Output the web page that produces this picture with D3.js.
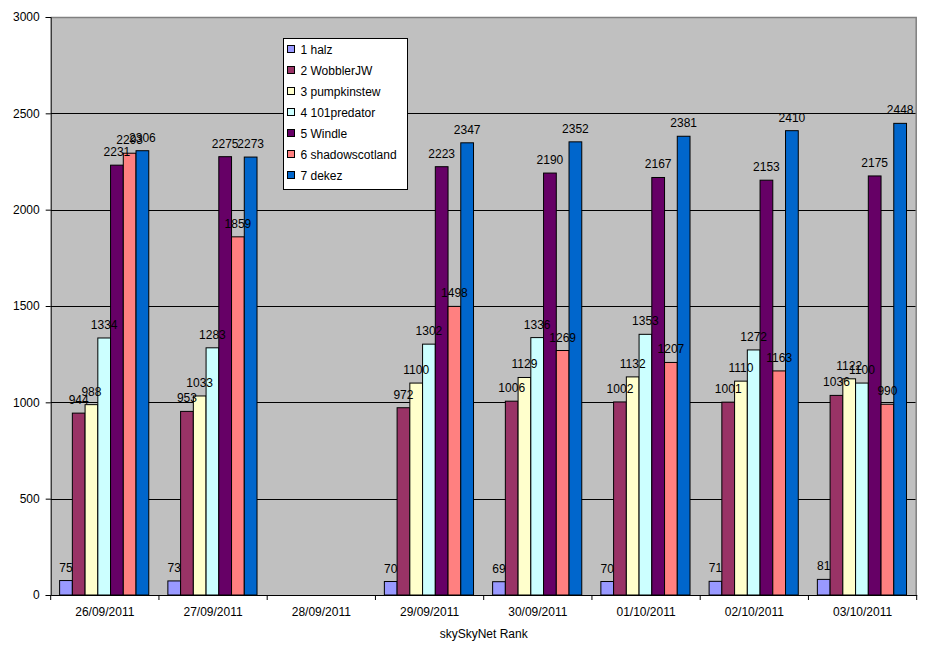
<!DOCTYPE html>
<html><head><meta charset="utf-8">
<script src="https://cdn.jsdelivr.net/npm/d3@7"></script>
<style>body{margin:0;background:#fff;}svg{display:block;}text{font-family:Arial,"Liberation Sans",sans-serif;}</style>
</head><body><svg id="c" width="936" height="652"></svg>
<script>
const dates = ["26/09/2011","27/09/2011","28/09/2011","29/09/2011","30/09/2011","01/10/2011","02/10/2011","03/10/2011"];
const seriesNames = ["1 halz","2 WobblerJW","3 pumpkinstew","4 101predator","5 Windle","6 shadowscotland","7 dekez"];
const halz = [75,73,null,70,69,70,71,81];
const wobblerJW = [944,953,null,972,1006,1002,1001,1036];
const pumpkinstew = [988,1033,null,1100,1129,1132,1110,1122];
const predator101 = [1334,1283,null,1302,1336,1353,1272,1100];
const windle = [2231,2275,null,2223,2190,2167,2153,2175];
const shadowscotland = [2293,1859,null,1498,1269,1207,1163,990];
const dekez = [2306,2273,null,2347,2352,2381,2410,2448];
const yTicks = [0,500,1000,1500,2000,2500,3000];
const axisTitle = "skySkyNet Rank";
const colors = ["#9999FF","#993366","#FFFFCC","#CCFFFF","#660066","#FF8080","#0066CC"];
const values = [halz,wobblerJW,pumpkinstew,predator101,windle,shadowscotland,dekez];

const svg = d3.select("#c");
const L=50.7, R=916.7, T=17, B=595;
const x = d3.scaleBand().domain(dates).range([L,R]).paddingInner(0).paddingOuter(0);
const gw = x.bandwidth();
const bw = gw/8.5;
const xs = d3.scaleBand().domain(seriesNames).range([0.7*bw, gw-0.8*bw]).padding(0);
const y = d3.scaleLinear().domain([0,3000]).range([B,T]);

svg.append("rect").attr("x",L).attr("y",T).attr("width",R-L).attr("height",B-T).attr("fill","#C0C0C0");
// gridlines
svg.append("g").selectAll("line").data(yTicks.filter(d=>d>0&&d<3000)).join("line")
  .attr("x1",L).attr("x2",R).attr("y1",d=>Math.round(y(d))+0.5).attr("y2",d=>Math.round(y(d))+0.5)
  .attr("stroke","#000").attr("stroke-width",1);
// top/right border
svg.append("path").attr("d",`M${L},${T+0.5}H${R-0.5}V${B}`).attr("fill","none").attr("stroke","#808080").attr("stroke-width",1.5);

// bars
const g = svg.append("g");
seriesNames.forEach((s,si)=>{
  const data = dates.map((d,i)=>({d,v:values[si][i]})).filter(o=>o.v!=null);
  g.append("g").selectAll("rect").data(data).join("rect")
    .attr("x",o=>x(o.d)+xs(s)).attr("width",xs.bandwidth())
    .attr("y",o=>y(o.v)).attr("height",o=>B-y(o.v))
    .attr("fill",colors[si]).attr("stroke","#000").attr("stroke-width",1);
});
// labels
seriesNames.forEach((s,si)=>{
  const data = dates.map((d,i)=>({d,v:values[si][i]})).filter(o=>o.v!=null);
  g.append("g").selectAll("text").data(data).join("text")
    .attr("x",o=>x(o.d)+xs(s)+xs.bandwidth()/2).attr("y",o=>y(o.v)-9)
    .attr("text-anchor","middle").attr("font-size",12).attr("fill","#000").text(o=>o.v);
});

// y axis
const ya = d3.axisLeft(y).tickValues(yTicks).tickSize(5).tickPadding(6).tickFormat(d3.format("d"));
const yg = svg.append("g").attr("transform",`translate(${L},0)`).call(ya);
yg.select(".domain").attr("stroke","#000");
yg.selectAll("text").attr("font-size",12).attr("fill","#000").attr("font-family","Arial,'Liberation Sans',sans-serif");
// x axis
const xa = d3.axisBottom(x).tickSize(0).tickPadding(12);
const xg = svg.append("g").attr("transform",`translate(0,${B})`).call(xa);
xg.select(".domain").attr("stroke","#000");
xg.selectAll("text").attr("font-size",12).attr("fill","#000").attr("font-family","Arial,'Liberation Sans',sans-serif");
const bounds = dates.map(d=>x(d)).concat([R]);
xg.append("g").selectAll("line").data(bounds).join("line")
  .attr("x1",d=>d).attr("x2",d=>d).attr("y1",0).attr("y2",5).attr("stroke","#000");

svg.append("text").attr("x",(L+R)/2).attr("y",638).attr("text-anchor","middle").attr("font-size",12).attr("fill","#000").text(axisTitle);

// legend
const lg = svg.append("g").attr("transform","translate(283.5,38.5)");
lg.append("rect").attr("width",124).attr("height",151).attr("fill","#fff").attr("stroke","#000");
seriesNames.forEach((s,i)=>{
  const yy = 11 + i*21;
  lg.append("rect").attr("x",4).attr("y",yy-4).attr("width",7).attr("height",7).attr("fill",colors[i]).attr("stroke","#000");
  lg.append("text").attr("x",17).attr("y",yy+4.5).attr("font-size",12).attr("fill","#000").text(s);
});
</script></body></html>
